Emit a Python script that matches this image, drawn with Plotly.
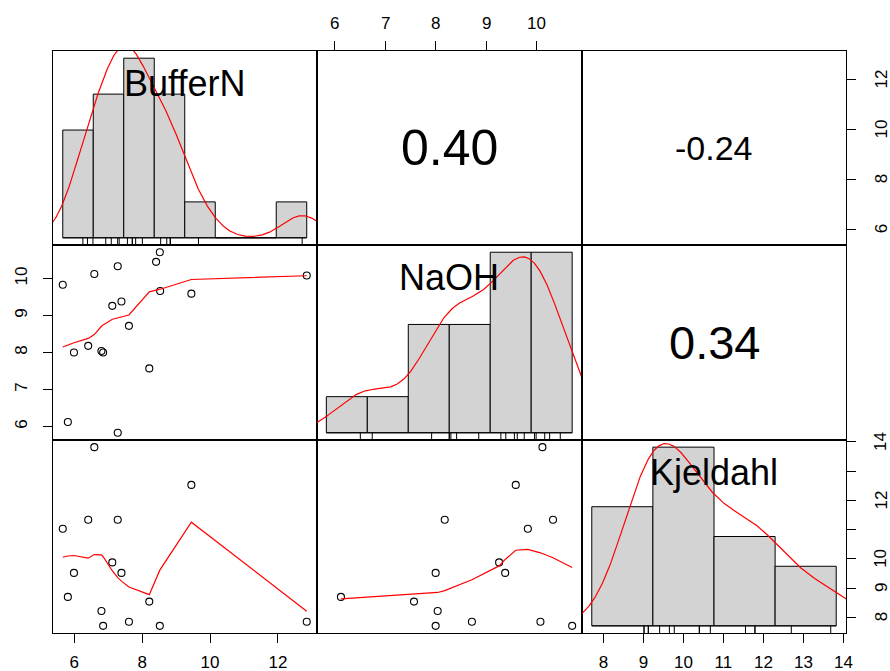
import numpy as np
import plotly.graph_objects as go

# ---------------- data ----------------
var_names = ["BufferN", "NaOH", "Kjeldahl"]

bufferN = [5.66, 6.59, 7.28, 8.52, 8.41, 7.12, 7.39, 8.53, 9.45, 12.85,
           7.61, 5.99, 6.41, 6.80, 6.85, 8.21, 5.81, 7.28]
naoh = [9.83, 10.12, 10.33, 10.71, 10.45, 9.26, 9.38, 9.66, 9.59, 10.08,
        8.72, 8.00, 8.18, 8.04, 8.00, 7.57, 6.12, 5.83]
kjeldahl = [11.03, 13.82, 11.34, 7.71, None, 9.88, 9.52, None, 12.53, 7.85,
            7.85, 9.52, 11.34, 8.22, 7.71, 8.54, 8.70, None]

# histogram break points (R "FD" breaks)
breaks_bufferN = [5, 6, 7, 8, 9, 10, 11, 12, 13]
breaks_naoh = [5, 6, 7, 8, 9, 10, 11]
breaks_kjeldahl = [6, 8, 10, 12, 14]

# correlation labels shown in upper panels: (BufferN,NaOH), (BufferN,Kjeldahl), (NaOH,Kjeldahl)
corr_text = ["0.40", "-0.24", "0.34"]

# tick values
ticks_bufferN = [6, 8, 10, 12]
ticks_naoh = [6, 7, 8, 9, 10]
ticks_kjeldahl = [8, 9, 10, 11, 12, 13, 14]
labels_kjeldahl_right = ["8", "9", "10", "", "12", "", "14"]

# ---------------- styles / layout ----------------
FONT = "Liberation Sans, Arial, sans-serif"
W, H = 890, 671
col_px = [53, 316.5, 582, 846]
row_px = [51, 245, 440, 633]
corr_sizes = [50, 34, 47]
label_size = 36
tick_size = 17
standoff = {"top": 2, "bottom": 5, "left": 9, "right": 9}
top_label_px = 23      # vertical centre of top tick labels
right_label_px = 881   # horizontal centre of right tick labels

data = [bufferN, naoh, kjeldahl]
breaks = [breaks_bufferN, breaks_naoh, breaks_kjeldahl]


def clean(v):
    return np.array([x for x in v if x is not None], float)


def pairs_range(v):
    a = clean(v)
    lo, hi = a.min(), a.max()
    s = hi - lo
    return [lo - 0.04 * s, hi + 0.04 * s]


def ext_range(lo, hi):
    s = hi - lo
    return [lo - 0.04 * s, hi + 0.04 * s]


def rclosed_counts(vals, br):
    out = []
    for i in range(len(br) - 1):
        lo, hi = br[i], br[i + 1]
        if i == 0:
            out.append(int(np.sum((vals >= lo - 1e-9) & (vals <= hi + 1e-9))))
        else:
            out.append(int(np.sum((vals > lo + 1e-9) & (vals <= hi + 1e-9))))
    return np.array(out)


def kde(vals):
    a = np.asarray(vals, float)
    n = len(a)
    sd = a.std(ddof=1)
    q75, q25 = np.percentile(a, [75, 25])
    lo = min(sd, (q75 - q25) / 1.34)
    bw = 0.9 * lo * n ** -0.2
    grid = np.linspace(a.min() - 3 * bw, a.max() + 3 * bw, 512)
    d = np.exp(-0.5 * ((grid[:, None] - a[None, :]) / bw) ** 2).sum(1) / (n * bw * np.sqrt(2 * np.pi))
    return grid, d


def lowess(x, y, f=2 / 3, iters=3):
    x = np.asarray(x, float)
    y = np.asarray(y, float)
    o = np.argsort(x, kind="stable")
    x, y = x[o], y[o]
    n = len(x)
    ns = max(2, min(n, int(f * n + 1e-7)))
    rng = x[-1] - x[0]
    rw = np.ones(n)
    ys = y.copy()
    for it in range(iters + 1):
        userw = it > 0
        nleft, nright = 0, ns - 1
        for i in range(n):
            xs = x[i]
            while nright < n - 1:
                d1 = xs - x[nleft]
                d2 = x[nright + 1] - xs
                if d1 <= d2:
                    break
                nleft += 1
                nright += 1
            h = max(xs - x[nleft], x[nright] - xs)
            h9, h1 = 0.999 * h, 0.001 * h
            w = np.zeros(n)
            a = 0.0
            j = nleft
            while j < n:
                r = abs(x[j] - xs)
                if r <= h9:
                    w[j] = 1.0 if r <= h1 else (1 - (r / h) ** 3) ** 3
                    if userw:
                        w[j] *= rw[j]
                    a += w[j]
                elif x[j] > xs:
                    break
                j += 1
            nrt = j - 1
            if a <= 0:
                ys[i] = y[i]
                continue
            sl = slice(nleft, nrt + 1)
            w[sl] /= a
            if h > 0:
                aa = np.sum(w[sl] * x[sl])
                b = xs - aa
                c = np.sum(w[sl] * (x[sl] - aa) ** 2)
                if np.sqrt(c) > 0.001 * rng:
                    b /= c
                    w[sl] = w[sl] * (b * (x[sl] - aa) + 1)
            ys[i] = np.sum(w[sl] * y[sl])
        if it == iters:
            break
        res = y - ys
        sc = np.sum(np.abs(res)) / n
        cmad = 6 * np.median(np.abs(res))
        if cmad < 1e-7 * sc:
            break
        c9, c1 = 0.999 * cmad, 0.001 * cmad
        r = np.abs(res)
        rw = np.where(r <= c1, 1.0, np.where(r <= c9, (1 - (r / cmad) ** 2) ** 2, 0.0))
    return x, ys


def ax_name(k, letter):
    return letter if k == 1 else f"{letter}{k}"


def ax_key(k, letter):
    return f"{letter}axis" if k == 1 else f"{letter}axis{k}"


def tick_style(side, labels=True):
    return dict(ticks="outside", ticklen=9, tickwidth=1, tickcolor="black",
                showticklabels=labels, side=side,
                tickfont=dict(family=FONT, size=tick_size, color="black"),
                ticklabelstandoff=standoff[side])


tickfont = dict(family=FONT, size=tick_size, color="black")
fig = go.Figure()
layout_axes = {}
annotations = []


def right_labels(yref, positions, texts):
    for yv, t in zip(positions, texts):
        if t:
            annotations.append(dict(text=t, xref="paper", x=right_label_px / W, yref=yref, y=yv,
                                    textangle=-90, showarrow=False, xanchor="center",
                                    yanchor="middle", font=tickfont))


def top_labels(xref, positions, texts):
    for xv, t in zip(positions, texts):
        annotations.append(dict(text=t, xref=xref, x=xv, yref="paper", y=1 - top_label_px / H,
                                showarrow=False, xanchor="center", yanchor="middle",
                                font=tickfont))


prange = [pairs_range(v) for v in data]

for r in range(3):
    for c in range(3):
        k = r * 3 + c + 1
        xn, yn = ax_name(k, "x"), ax_name(k, "y")
        xdom = [col_px[c] / W, col_px[c + 1] / W]
        ydom = [1 - row_px[r + 1] / H, 1 - row_px[r] / H]
        xa = dict(domain=xdom, anchor=yn, showgrid=False, zeroline=False, automargin=False,
                  showline=True, mirror=True, linecolor="black", linewidth=1,
                  ticks="", showticklabels=False, fixedrange=True)
        ya = dict(domain=ydom, anchor=xn, showgrid=False, zeroline=False, automargin=False,
                  showline=True, mirror=True, linecolor="black", linewidth=1,
                  ticks="", showticklabels=False, fixedrange=True)

        if r == c:
            vals = clean(data[r])
            br = breaks[r]
            cnt = rclosed_counts(vals, br)
            widths = np.diff(br)
            dens = cnt / (len(vals) * widths)
            centers = (np.array(br[:-1]) + np.array(br[1:])) / 2
            dmax = dens.max()
            hx = ext_range(br[0], br[-1])
            hy = ext_range(0, dmax)
            xa["range"] = hx
            ya["range"] = hy
            fig.add_trace(go.Bar(x=centers, y=dens, width=widths,
                                 marker=dict(color="#D3D3D3", line=dict(color="black", width=1)),
                                 xaxis=xn, yaxis=yn, showlegend=False, hoverinfo="skip"))
            fig.add_trace(go.Scatter(x=[br[0], br[-1]], y=[0, 0], mode="lines",
                                     line=dict(color="black", width=1),
                                     xaxis=xn, yaxis=yn, showlegend=False, hoverinfo="skip"))
            gx, gd = kde(vals)
            fig.add_trace(go.Scatter(x=gx, y=gd, mode="lines",
                                     line=dict(color="red", width=1.2),
                                     xaxis=xn, yaxis=yn, showlegend=False, hoverinfo="skip"))
            rx, ry = [], []
            for v in vals:
                rx += [v, v, None]
                ry += [hy[0], 0, None]
            fig.add_trace(go.Scatter(x=rx, y=ry, mode="lines",
                                     line=dict(color="black", width=1),
                                     xaxis=xn, yaxis=yn, showlegend=False, hoverinfo="skip"))
            annotations.append(dict(text=var_names[r], xref=f"{xn} domain", yref=f"{yn} domain",
                                    x=0.5, y=0.8333, showarrow=False, xanchor="center", yanchor="middle",
                                    font=dict(family=FONT, size=label_size, color="black")))
            if r == 2:
                # pairs-scale ticks for Kjeldahl drawn on the histogram panel
                p0, p1 = prange[2]
                tx = [hx[0] + (t - p0) * (hx[1] - hx[0]) / (p1 - p0) for t in ticks_kjeldahl]
                ty = [hy[0] + (t - p0) * (hy[1] - hy[0]) / (p1 - p0) for t in ticks_kjeldahl]
                xa.update(tick_style("bottom"))
                xa.update(tickmode="array", tickvals=tx,
                          ticktext=[str(t) for t in ticks_kjeldahl])
                ya.update(tick_style("right", labels=False))
                ya.update(tickmode="array", tickvals=ty)
                right_labels(yn, ty, labels_kjeldahl_right)
        elif r > c:
            xv = np.array([np.nan if v is None else v for v in data[c]], float)
            yv = np.array([np.nan if v is None else v for v in data[r]], float)
            ok = ~np.isnan(xv) & ~np.isnan(yv)
            xa["range"] = prange[c]
            ya["range"] = prange[r]
            fig.add_trace(go.Scatter(x=xv[ok], y=yv[ok], mode="markers",
                                     marker=dict(symbol="circle-open", size=7, color="black",
                                                 line=dict(width=1.1, color="black")),
                                     xaxis=xn, yaxis=yn, showlegend=False, hoverinfo="skip"))
            lx, ly = lowess(xv[ok], yv[ok])
            fig.add_trace(go.Scatter(x=lx, y=ly, mode="lines",
                                     line=dict(color="red", width=1.2),
                                     xaxis=xn, yaxis=yn, showlegend=False, hoverinfo="skip"))
            if r == 1 and c == 0:
                ya.update(tick_style("left"))
                ya.update(tickmode="array", tickvals=ticks_naoh,
                          ticktext=[str(t) for t in ticks_naoh], tickangle=-90)
            if r == 2 and c == 0:
                xa.update(tick_style("bottom"))
                xa.update(tickmode="array", tickvals=ticks_bufferN,
                          ticktext=[str(t) for t in ticks_bufferN])
        else:
            xa["range"] = prange[c]
            ya["range"] = prange[r]
            # empty trace so the subplot exists
            fig.add_trace(go.Scatter(x=[], y=[], mode="markers", xaxis=xn, yaxis=yn,
                                     showlegend=False, hoverinfo="skip"))
            idx = {(0, 1): 0, (0, 2): 1, (1, 2): 2}[(r, c)]
            annotations.append(dict(text=corr_text[idx], xref=f"{xn} domain", yref=f"{yn} domain",
                                    x=0.5, y=0.5, showarrow=False, xanchor="center", yanchor="middle",
                                    font=dict(family=FONT, size=corr_sizes[idx], color="black")))
            if r == 0 and c == 1:
                xa.update(tick_style("top", labels=False))
                xa.update(tickmode="array", tickvals=ticks_naoh)
                top_labels(xn, ticks_naoh, [str(t) for t in ticks_naoh])
            if r == 0 and c == 2:
                ya.update(tick_style("right", labels=False))
                ya.update(tickmode="array", tickvals=ticks_bufferN)
                right_labels(yn, ticks_bufferN, [str(t) for t in ticks_bufferN])

        layout_axes[ax_key(k, "x")] = xa
        layout_axes[ax_key(k, "y")] = ya

fig.update_layout(**layout_axes)
fig.update_layout(width=W, height=H, margin=dict(l=0, r=0, t=0, b=0, autoexpand=False),
                  paper_bgcolor="white", plot_bgcolor="white",
                  annotations=annotations, showlegend=False, barmode="overlay",
                  font=dict(family=FONT, color="black"))

fig.write_html("out.html", config={"displayModeBar": False},
               post_script="document.body.style.margin='0px';")
